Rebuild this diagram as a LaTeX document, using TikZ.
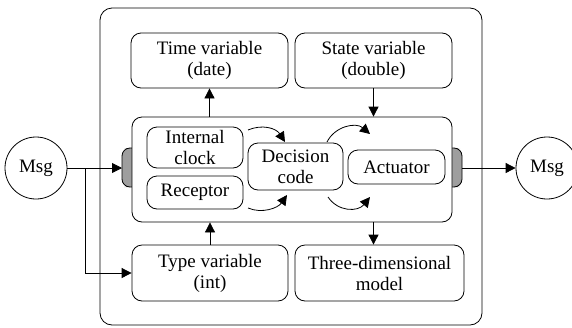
\documentclass[tikz,border=0pt]{standalone}
\usepackage{fontspec}
\setmainfont{Liberation Serif}
\usetikzlibrary{arrows.meta}
\begin{document}
\begin{tikzpicture}[x=1pt,y=-1pt, line width=0.8pt,
  box/.style={draw, rounded corners=10pt, align=center, inner sep=0pt, font=\fontsize{19}{21}\selectfont},
  msgnode/.style={draw, circle, minimum size=62pt, inner sep=0pt, font=\fontsize{19}{21}\selectfont},
  arr/.style={-{Triangle[length=10pt,width=10pt]}},
  port/.style={fill=black!38},
]
\useasboundingbox (0,0) rectangle (572,327);
% outer container
\draw[rounded corners=12pt] (100,8) rectangle (482,325);

% ports
\fill[port, rounded corners=8pt] (132,148) -- (122,148) -- (122,187) -- (132,187) -- cycle;
\fill[port] (126,148) rectangle (132,187);
\draw[rounded corners=8pt] (132,148) -- (122,148) -- (122,187) -- (132,187);
\fill[port, rounded corners=8pt] (452,148) -- (462,148) -- (462,187) -- (452,187) -- cycle;
\fill[port] (452,148) rectangle (458,187);
\draw[rounded corners=8pt] (452,148) -- (462,148) -- (462,187) -- (452,187);

% boxes
\node[box, minimum width=157pt, minimum height=55pt] (time) at (209.5,60.5) {Time variable\\(date)};
\node[box, minimum width=157pt, minimum height=55pt] (state) at (373.5,60.5) {State variable\\(double)};
\node[box, fill=white, minimum width=320pt, minimum height=105pt] (core) at (292,169.5) {};
\node[box, minimum width=156pt, minimum height=56pt] (typev) at (210,273) {Type variable\\(int)};
\node[box, minimum width=169pt, minimum height=56pt] (three) at (379.5,273) {Three-dimensional\\model};

% inner nodes
\node[box, minimum width=96pt, minimum height=41pt] (clock) at (195,147.5) {Internal\\clock};
\node[box, minimum width=96pt, minimum height=33pt] (receptor) at (195,192.5) {Receptor};
\node[box, minimum width=95pt, minimum height=47pt] (decision) at (295.5,166.5) {Decision\\code};
\node[box, minimum width=97pt, minimum height=34pt] (actuator) at (396.5,167) {Actuator};

% messages
\node[msgnode] (msgL) at (36,168) {Msg};
\node[msgnode] (msgR) at (547,168) {Msg};
\coordinate (portL) at (122,168);
\coordinate (portR) at (462,168);
\coordinate (split) at (85,168);

\draw[arr] (msgL) -- (portL);
\draw[arr] (split) |- (typev.west);
\draw[arr] (portR) -- (msgR);

% vertical connectors
\draw[arr] (core.north -| time) -- (time.south);
\draw[arr] (state.south) -- (state.south |- core.north);
\draw[arr] (typev.north) -- (typev.north |- core.south);
\draw[arr] (core.south -| state) -- (three.north -| state);

% curved arrows
\coordinate (c1a) at (248,130); \coordinate (c1b) at (285,142);
\coordinate (c2a) at (248,208); \coordinate (c2b) at (287,195);
\coordinate (c3a) at (327,142); \coordinate (c3b) at (370,134);
\coordinate (c4a) at (328,197); \coordinate (c4b) at (370,197);
\draw[arr] (c1a) .. controls (262,124) and (276,128) .. (c1b);
\draw[arr] (c2a) .. controls (262,214) and (278,208) .. (c2b);
\draw[arr] (c3a) .. controls (335,126) and (356,122) .. (c3b);
\draw[arr] (c4a) .. controls (338,212) and (358,212) .. (c4b);
\end{tikzpicture}
\end{document}
